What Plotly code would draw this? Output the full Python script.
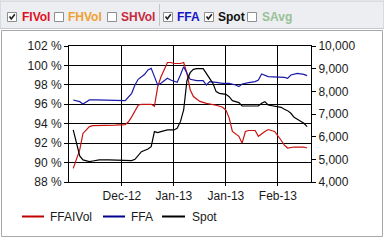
import plotly.graph_objects as go

# ---- data ----
vol_dates = ["12-02","12-04","12-05","12-07","12-08","12-11","12-14","12-15","12-18","12-19",
             "12-20","12-21","12-22","12-23","12-26","12-27","12-28","12-29","12-31","01-01",
             "01-02","01-04","01-05","01-06","01-07","01-08","01-10","01-12","01-14","01-15",
             "01-17","01-18","01-19","01-20","01-22","01-23","01-24","01-25","01-27","01-28",
             "01-30","01-31","02-02","02-03","02-04","02-05","02-06","02-08","02-09","02-11",
             "02-12"]
ffa_ivol = [89.4, 91.3, 93.0, 93.7, 93.8, 93.8, 93.8, 93.85, 93.9, 94.2,
            94.7, 95.3, 95.9, 96.0, 96.0, 95.8, 97.8, 98.8, 100.3, 100.3,
            100.2, 100.2, 100.3, 99.2, 97.5, 96.8, 96.3, 96.1, 96.0, 95.9,
            95.7, 95.4, 94.6, 93.2, 92.7, 92.0, 93.2, 93.3, 93.3, 92.7,
            93.2, 93.4, 93.2, 92.8, 92.3, 91.8, 91.5, 91.6, 91.6, 91.6,
            91.5]

ffa_dates = ["12-02","12-04","12-05","12-06","12-07","12-09","12-13","12-15","12-18","12-20",
             "12-21","12-22","12-24","12-25","12-26","12-27","12-28","12-29","12-31","01-01",
             "01-03","01-04","01-05","01-06","01-07","01-09","01-11","01-12","01-13","01-15",
             "01-17","01-19","01-21","01-22","01-23","01-25","01-27","01-28","01-29","01-31",
             "02-03","02-05","02-06","02-07","02-09","02-11","02-12"]
ffa = [7619, 7545, 7442, 7545, 7619, 7619, 7619, 7589, 7589, 7913,
       8280, 8530, 8750, 8942, 9015, 8648, 8280, 8354, 8574, 8501,
       8398, 8721, 9089, 8795, 8530, 8471, 8471, 8280, 8427, 8398,
       8354, 8354, 8280, 8207, 8324, 8383, 8427, 8501, 8765, 8648,
       8618, 8618, 8574, 8721, 8795, 8750, 8692]

spot_dates = ["12-02","12-03","12-04","12-05","12-07","12-08","12-10","12-13","12-16","12-18",
              "12-20","12-21","12-22","12-23","12-25","12-26","12-27","12-28","12-29","12-31",
              "01-02","01-03","01-04","01-05","01-06","01-07","01-08","01-09","01-11","01-12",
              "01-14","01-15","01-16","01-18","01-19","01-20","01-22","01-23","01-25","01-27",
              "01-28","01-29","01-30","01-31","02-02","02-04","02-05","02-06","02-07","02-08",
              "02-09","02-11","02-12"]
spot = [6296, 5708, 5149, 4973, 4899, 4928, 4973, 4973, 4973, 4973,
        4943, 5002, 5193, 5340, 5458, 5561, 6222, 6178, 6222, 6296,
        6296, 6369, 6663, 7178, 8471, 8824, 8971, 9000, 9000, 8795,
        8354, 7986, 7913, 7869, 7766, 7589, 7501, 7354, 7354, 7325,
        7354, 7472, 7545, 7398, 7354, 7295, 7207, 7148, 7031, 6854,
        6766, 6590, 6443]

x_tick_dates = ["2012-12-17", "2013-01-02", "2013-01-18", "2013-02-03"]
x_tick_text = ["Dec-12", "Jan-13", "Jan-13", "Feb-13"]
x_range = ["2012-11-30 16:48", "2013-02-13 04:48"]

toolbar_items = ["FIVol", "FHVol", "SHVol", "FFA", "Spot", "SAvg"]
toolbar_checked = [True, False, False, True, True, False]
toolbar_colors = ["#e0101e", "#f0a030", "#c8283c", "#1414c8", "#101010", "#98c098"]

legend_names = ["FFAIVol", "FFA", "Spot"]
series_colors = ["#cc1111", "#1a1aa8", "#000000"]
legend_colors = ["#c00000", "#00008c", "#000000"]


def full_date(md):
    return ("2012-" if md.startswith("12") else "2013-") + md


W, H = 384, 240
L, R, T, B = 69, 311, 46, 182


def px(x):
    return (x - L) / (R - L)


def py(y):
    return (B - y) / (B - T)


fig = go.Figure()
fig.add_trace(go.Scatter(x=[full_date(d) for d in vol_dates], y=ffa_ivol, mode="lines",
                         line=dict(color=series_colors[0], width=1.2), name=legend_names[0]))
fig.add_trace(go.Scatter(x=[full_date(d) for d in ffa_dates], y=ffa, mode="lines", yaxis="y2",
                         line=dict(color=series_colors[1], width=1.2), name=legend_names[1]))
fig.add_trace(go.Scatter(x=[full_date(d) for d in spot_dates], y=spot, mode="lines", yaxis="y2",
                         line=dict(color=series_colors[2], width=1.2), name=legend_names[2]))

shapes = []
annotations = []

# toolbar background
shapes.append(dict(type="rect", xref="paper", yref="paper", x0=px(0), x1=px(384), y0=py(1), y1=py(28.5),
                   fillcolor="#eceef1", line=dict(color="#c6c9cd", width=1), layer="below"))
shapes.append(dict(type="line", xref="paper", yref="paper", x0=px(159.5), x1=px(159.5), y0=py(4), y1=py(26),
                   line=dict(color="#c4c4c4", width=1)))
# chart panel border
shapes.append(dict(type="rect", xref="paper", yref="paper", x0=px(1.5), x1=px(382.5), y0=py(30.5), y1=py(236.5),
                   fillcolor="rgba(0,0,0,0)", line=dict(color="#a8a8a8", width=1), layer="below"))

box_x = [7, 54, 107, 163, 204, 247]
text_x = [20, 66, 119, 175, 216, 260]
for bx, tx, name, chk, col in zip(box_x, text_x, toolbar_items, toolbar_checked, toolbar_colors):
    shapes.append(dict(type="rect", xref="paper", yref="paper", x0=px(bx + 0.5), x1=px(bx + 9.5),
                       y0=py(12.5), y1=py(21.5), fillcolor="#ffffff", line=dict(color="#8e8f8f", width=1)))
    if chk:
        shapes.append(dict(type="path", xref="paper", yref="paper",
                           path="M %f %f L %f %f L %f %f" % (px(bx + 2.5), py(16.5), px(bx + 4.3), py(19),
                                                             px(bx + 7.8), py(14.2)),
                           line=dict(color="#202020", width=1.6)))
    annotations.append(dict(xref="paper", yref="paper", x=px(tx), y=py(17), xanchor="left", yanchor="middle",
                            text="<b>%s</b>" % name, showarrow=False,
                            font=dict(family="Liberation Sans", size=12, color=col)))

# legend (drawn manually to match the compact style)
leg_line = [(22, 44), (103, 125), (162, 185)]
leg_text = [48, 129, 190]
for (a, b), t, name, col in zip(leg_line, leg_text, legend_names, legend_colors):
    shapes.append(dict(type="line", xref="paper", yref="paper", x0=px(a), x1=px(b), y0=py(216.5), y1=py(216.5),
                       line=dict(color=col, width=2)))
    annotations.append(dict(xref="paper", yref="paper", x=px(t), y=py(216.5), xanchor="left", yanchor="middle",
                            text=name, showarrow=False,
                            font=dict(family="Liberation Sans", size=12, color="#1a1a1a")))

axis_font = dict(family="Liberation Sans", size=12, color="#1a1a1a")
fig.update_layout(
    width=W, height=H,
    margin=dict(l=L, r=W - R, t=T, b=H - B),
    paper_bgcolor="#ffffff", plot_bgcolor="#ffffff",
    showlegend=False,
    shapes=shapes, annotations=annotations,
    xaxis=dict(type="date", range=x_range, tickvals=x_tick_dates, ticktext=x_tick_text,
               showgrid=True, gridcolor="#000000", gridwidth=1,
               showline=True, linecolor="#000000", linewidth=1, mirror=True,
               ticks="outside", ticklen=3, tickcolor="#000000", tickfont=axis_font, zeroline=False),
    yaxis=dict(range=[88, 102], dtick=2, tick0=88, ticksuffix=" %",
               showgrid=True, gridcolor="#000000", gridwidth=1,
               showline=True, linecolor="#000000", linewidth=1,
               ticks="outside", ticklen=4, tickcolor="#000000", tickfont=axis_font, zeroline=False),
    yaxis2=dict(range=[4000, 10000], dtick=1000, tick0=4000, tickformat=",d", overlaying="y", side="right",
                showgrid=False, showline=True, linecolor="#000000", linewidth=1,
                ticks="outside", ticklen=4, tickcolor="#000000", tickfont=axis_font, zeroline=False),
)

fig.write_html("out.html")
